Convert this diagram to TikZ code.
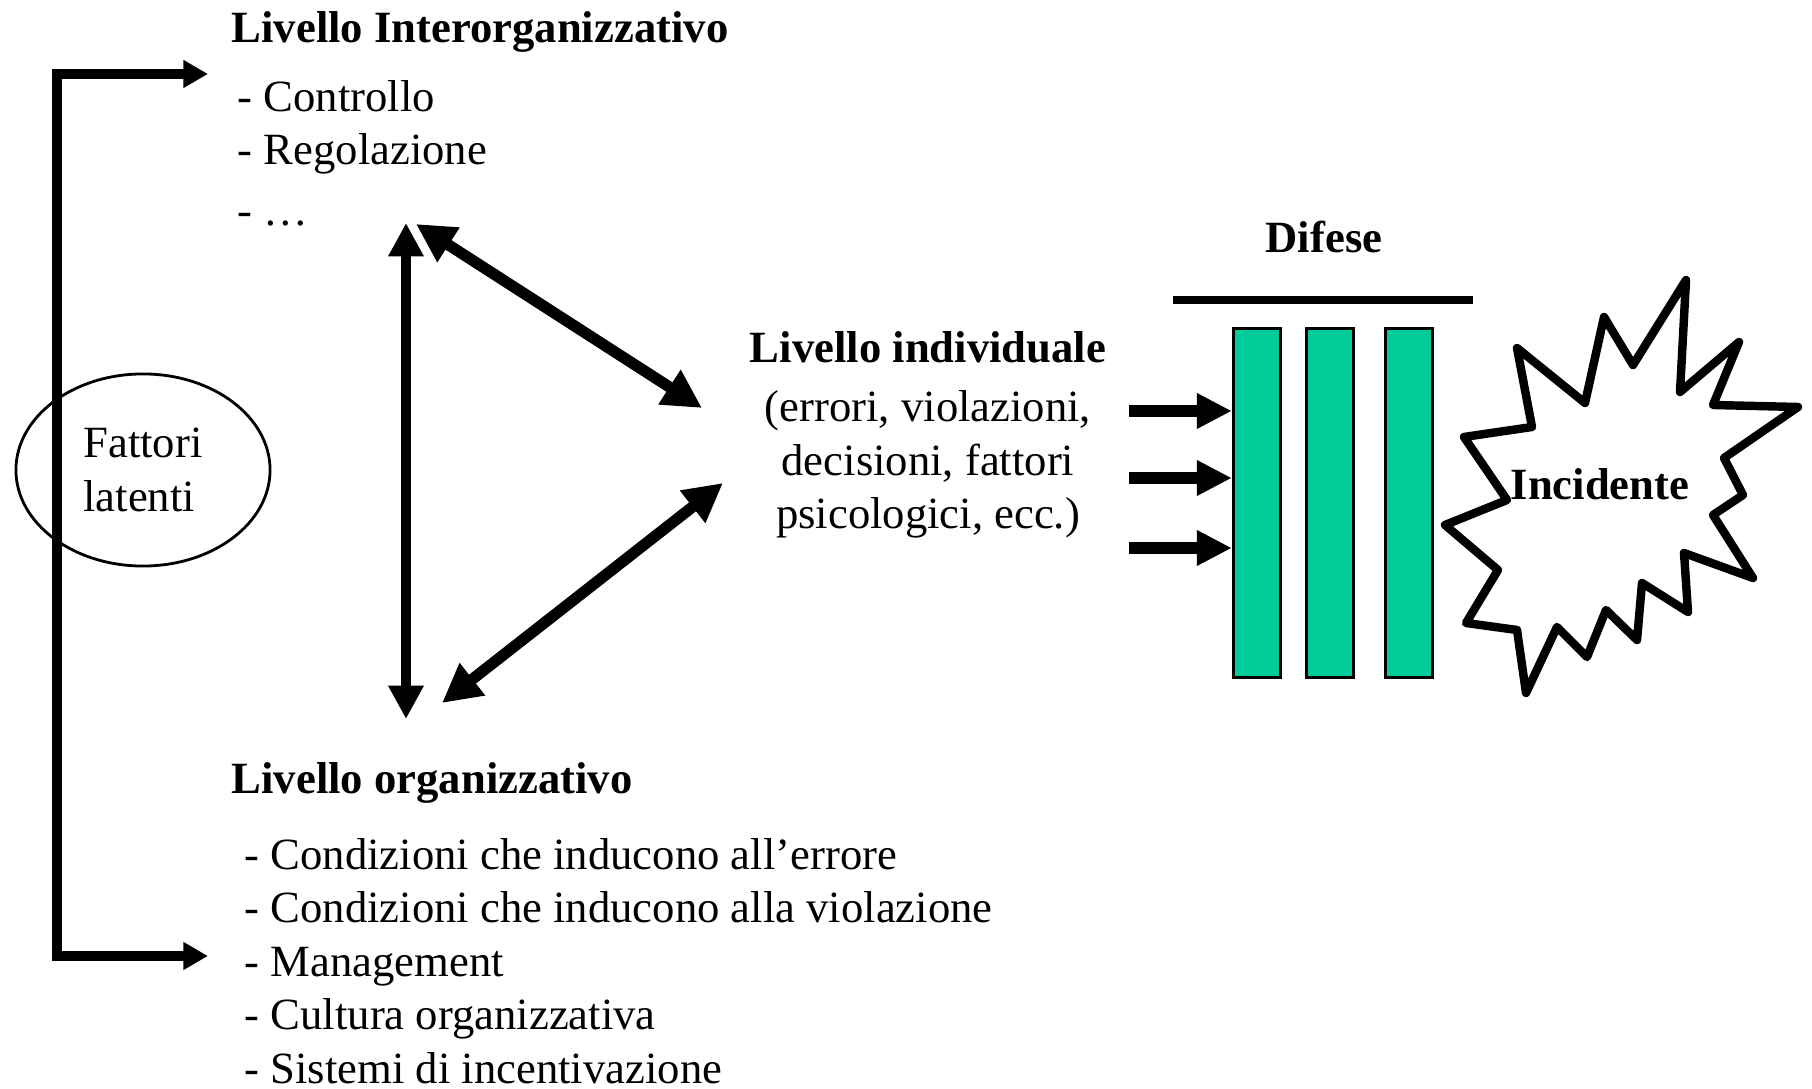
\documentclass[tikz,border=0pt]{standalone}
\usepackage{fontspec}
\setmainfont{Liberation Serif}
\usetikzlibrary{arrows.meta,shapes.geometric}
\definecolor{difesa}{RGB}{0,204,153}
\tikzset{every node/.style={inner sep=0pt,font=\fontsize{12.7}{15.2}\selectfont},
  head/.style={font=\fontsize{12.7}{15.2}\selectfont\bfseries},
  bar/.style={draw,line width=0.9pt,fill=difesa,minimum width=0.47cm,minimum height=3.48cm},
  bracket/.style={line width=3pt,{Triangle[length=7pt,width=7.5pt]}-{Triangle[length=7pt,width=7.5pt]}},
  link/.style={line width=2.6pt,{Triangle[length=9.5pt,width=9.5pt]}-{Triangle[length=9.5pt,width=9.5pt]}},
  diag/.style={line width=3.2pt,{Triangle[length=11pt,width=11pt]}-{Triangle[length=11pt,width=11pt]}},
  push/.style={line width=3.5pt,-{Triangle[length=10pt,width=9.5pt]}},
  burst/.style={line width=2.4pt,line join=round,fill=white}}

\begin{document}
\begin{tikzpicture}[x=0.01cm,y=-0.01cm]
\useasboundingbox (0,0) rectangle (1812,1089);
% livelli
\node[head,anchor=west] (inter) at (231,32) {Livello Interorganizzativo};
\node[anchor=west,align=left] (interlist) at (237,153) {- Controllo\\- Regolazione\\[2pt]- …};
\node[head,anchor=west] (org) at (231,783) {Livello organizzativo};
\node[anchor=west,align=left] (orglist) at (244,961) {- Condizioni che inducono all’errore\\
  - Condizioni che inducono alla violazione\\- Management\\- Cultura organizzativa\\
  - Sistemi di incentivazione};
\node[align=center] (indiv) at (928,435) {\textbf{Livello individuale}\\[1.5pt](errori, violazioni,\\
  decisioni, fattori\\psicologici, ecc.)};
\node[draw,ellipse,line width=0.8pt,minimum width=2.54cm,minimum height=1.92cm,align=left]
  (fattori) at (143,470) {Fattori\\latenti};
% parentesi
\coordinate (lt) at (57,74);
\coordinate (lb) at (57,956);
\coordinate (tt) at (208,74);
\coordinate (tb) at (208,956);
\draw[bracket] (tt) -- (lt) -- (lb) -- (tb);
% triangolo
\coordinate (v1) at (406,223);
\coordinate (v2) at (406,719);
\coordinate (d1) at (416,224);
\coordinate (d2) at (702,408);
\coordinate (d3) at (442,703);
\coordinate (d4) at (723,483);
\draw[link] (v1) -- (v2);
\draw[diag] (d1) -- (d2);
\draw[diag] (d3) -- (d4);
% difese
\node[head] (difese) at (1324,237) {Difese};
\draw[line width=2.4pt] (1173,300) -- (1473,300);
\node[bar] (b1) at (1257,503) {};
\node[bar] (b2) at (1330,503) {};
\node[bar] (b3) at (1409,503) {};
\foreach \y/\n in {411/1,478/2,548/3}{
  \coordinate (p\n) at (1129,\y);
  \draw[push] (p\n) -- (p\n -| b1.west);
}
% incidente
\draw[burst] (1686,280) -- (1680,392) -- (1739,342) -- (1713,405) -- (1798,407) -- (1724,458)
  -- (1743,495) -- (1713,515) -- (1753,578) -- (1684,553) -- (1688,612) -- (1642,583)
  -- (1637,640) -- (1606,610) -- (1587,657) -- (1557,627) -- (1526,693) -- (1517,630)
  -- (1466,623) -- (1498,570) -- (1445,525) -- (1507,500) -- (1464,437) -- (1532,427)
  -- (1517,348) -- (1585,403) -- (1604,317) -- (1633,365) -- cycle;
\node[head] (incid) at (1600,484) {Incidente};
\end{tikzpicture}
\end{document}
